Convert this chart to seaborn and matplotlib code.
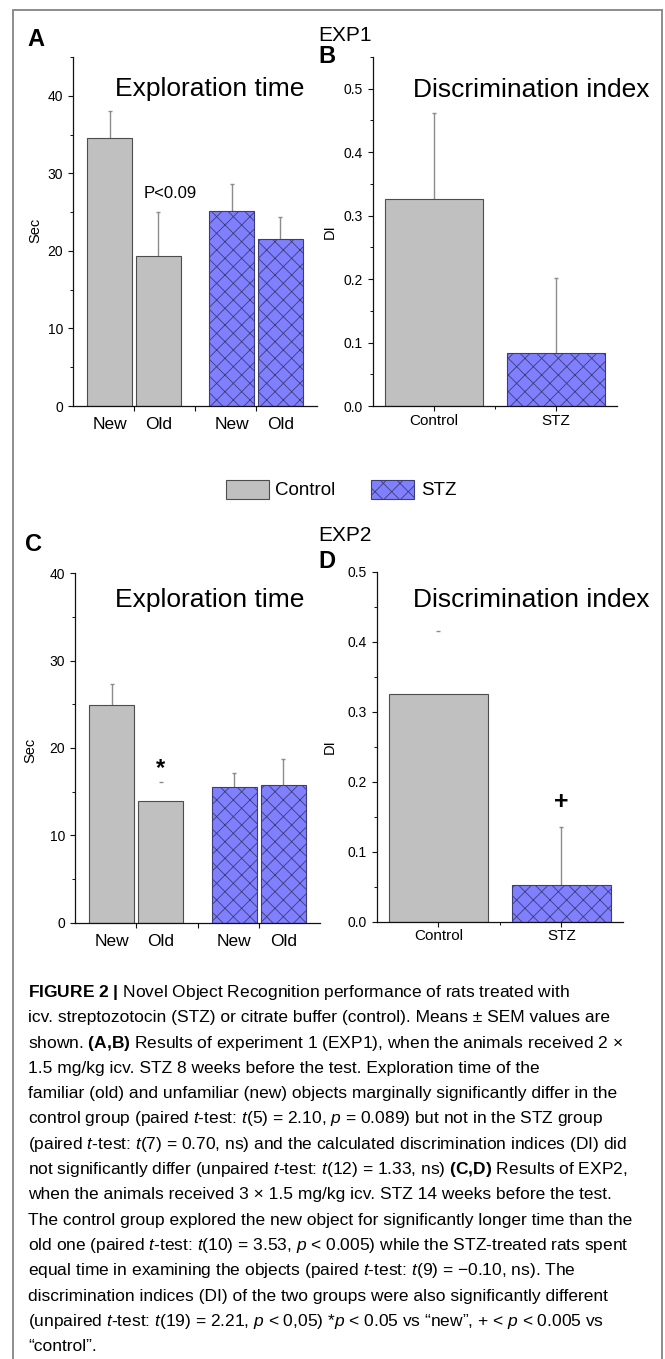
import matplotlib
matplotlib.use("Agg")
import numpy as np
import pandas as pd
import matplotlib.pyplot as plt
import seaborn as sns
from matplotlib import font_manager
from matplotlib.lines import Line2D
from matplotlib.patches import Patch
from matplotlib.ticker import MultipleLocator, FormatStrFormatter

# Values
groups = ["Control", "STZ"]
objects = ["New", "Old"]

# Exploration time (sec), order: Control New, Control Old, STZ New, STZ Old
exp1_time = [34.5, 19.3, 25.2, 21.5]
exp1_time_sem = [3.6, 5.7, 3.4, 2.9]
exp2_time = [24.9, 13.9, 15.55, 15.8]
exp2_time_sem = [2.4, 2.2, 1.6, 2.9]

# Discrimination index, order: Control, STZ
exp1_di = [0.326, 0.083]
exp1_di_sem = [0.136, 0.119]
exp2_di = [0.325, 0.052]
exp2_di_sem = [0.090, 0.083]

caption_lines = [
    r"$\mathbf{FIGURE\ 2\ |}$ Novel Object Recognition performance of rats treated with",
    "icv. streptozotocin (STZ) or citrate buffer (control). Means ± SEM values are",
    r"shown. $\mathbf{(A{,}B)}$ Results of experiment 1 (EXP1), when the animals received 2 ×",
    "1.5 mg/kg icv. STZ 8 weeks before the test. Exploration time of the",
    "familiar (old) and unfamiliar (new) objects marginally significantly differ in the",
    r"control group (paired $t$-test: $t$(5) = 2.10, $p$ = 0.089) but not in the STZ group",
    r"(paired $t$-test: $t$(7) = 0.70, ns) and the calculated discrimination indices (DI) did",
    r"not significantly differ (unpaired $t$-test: $t$(12) = 1.33, ns) $\mathbf{(C{,}D)}$ Results of EXP2,",
    "when the animals received 3 × 1.5 mg/kg icv. STZ 14 weeks before the test.",
    "The control group explored the new object for significantly longer time than the",
    r"old one (paired $t$-test: $t$(10) = 3.53, $p$ < 0.005) while the STZ-treated rats spent",
    r"equal time in examining the objects (paired $t$-test: $t$(9) = −0.10, ns). The",
    "discrimination indices (DI) of the two groups were also significantly different",
    r"(unpaired $t$-test: $t$(19) = 2.21, $p$ < 0,05) *$p$ < 0.05 vs “new”, + < $p$ < 0.005 vs",
    "“control”.",
]

# colours
ctrl_color = "#c0c0c0"
stz_color = "#8080ff"
ctrl_edge = "#4d4d4d"
stz_edge = "#3c3c78"
err_color = "#8c8c8c"
ink = "#111111"

sns.set_style("ticks")
plt.rcParams["font.family"] = ["Liberation Sans", "DejaVu Sans"]
plt.rcParams["hatch.linewidth"] = 0.6
plt.rcParams["axes.edgecolor"] = ink
plt.rcParams["axes.linewidth"] = 0.9
plt.rcParams["text.color"] = "black"
plt.rcParams["axes.labelcolor"] = "black"
plt.rcParams["xtick.color"] = ink
plt.rcParams["ytick.color"] = ink
plt.rcParams["xtick.labelcolor"] = "black"
plt.rcParams["ytick.labelcolor"] = "black"

names = {f.name for f in font_manager.fontManager.ttflist}
cap_font = "Liberation Sans Narrow" if "Liberation Sans Narrow" in names else "Liberation Sans"
plt.rcParams["mathtext.fontset"] = "custom"
plt.rcParams["mathtext.rm"] = cap_font
plt.rcParams["mathtext.it"] = cap_font + ":italic"
plt.rcParams["mathtext.bf"] = cap_font + ":bold"

W, H = 665, 1359
fig = plt.figure(figsize=(W / 100, H / 100), dpi=100)


def add_axes(left, top, right, bottom):
    return fig.add_axes([left / W, 1 - bottom / H, (right - left) / W, (bottom - top) / H])


def paint(patch, g):
    if g == 0:
        patch.set_facecolor(ctrl_color)
        patch.set_edgecolor(ctrl_edge)
    else:
        patch.set_facecolor(stz_color)
        patch.set_edgecolor(stz_edge)
        patch.set_hatch("xx")
    patch.set_linewidth(0.8)


def draw_err(ax, x, y, e, show_line=True):
    if show_line:
        ax.errorbar([x], [y], yerr=[[0], [e]], fmt="none", ecolor=err_color,
                    elinewidth=1.0, capsize=0, zorder=0.5)
    ax.plot([x], [y + e], marker="_", ms=3.5, mew=1.0, color=err_color, zorder=0.5)


def style_axis(ax, ymax, major, minor, fmt):
    sns.despine(ax=ax)
    ax.set_xlim(-0.5, 1.5)
    ax.set_ylim(0, ymax)
    ax.yaxis.set_major_locator(MultipleLocator(major))
    ax.yaxis.set_minor_locator(MultipleLocator(minor))
    ax.yaxis.set_major_formatter(FormatStrFormatter(fmt))
    ax.tick_params(axis="y", which="major", direction="out", length=3.6, width=0.8,
                   pad=3.4, labelsize=10)
    ax.tick_params(axis="y", which="minor", direction="out", length=2.2, width=0.7)
    ax.set_xlabel("")


def time_panel(ax, means, sems, ymax, hide=None):
    df = pd.DataFrame({"group": np.repeat(groups, 2), "object": objects * 2,
                       "sec": means, "err": sems})
    sns.barplot(data=df, x="group", y="sec", hue="object", order=groups,
                hue_order=objects, width=0.8, gap=0.08, errorbar=None,
                legend=False, ax=ax)
    centers = []
    for p in ax.patches:
        xc = p.get_x() + p.get_width() / 2
        g = int(round(xc))
        o = 0 if xc < g else 1
        row = df[(df["group"] == groups[g]) & (df["object"] == objects[o])].iloc[0]
        paint(p, g)
        draw_err(ax, xc, p.get_height(), row["err"], hide != (groups[g], objects[o]))
        centers.append((xc, objects[o]))
    centers.sort()
    style_axis(ax, ymax, 10, 5, "%d")
    ax.set_xticks([c[0] for c in centers], [c[1] for c in centers])
    ax.set_xticks([0, 0.5, 1], minor=True)
    ax.tick_params(axis="x", which="major", length=0, pad=8.0, labelsize=12.5)
    ax.tick_params(axis="x", which="minor", direction="out", length=3.6, width=0.8)
    ax.set_ylabel("Sec", fontsize=10.5)


def di_panel(ax, means, sems, ymax, hide=None):
    df = pd.DataFrame({"group": groups, "di": means, "err": sems})
    sns.barplot(data=df, x="group", y="di", order=groups, width=0.8,
                errorbar=None, ax=ax)
    for p in ax.patches:
        xc = p.get_x() + p.get_width() / 2
        g = int(round(xc))
        paint(p, g)
        draw_err(ax, xc, p.get_height(), df["err"][g], hide != groups[g])
    style_axis(ax, ymax, 0.1, 0.05, "%.1f")
    ax.set_xticks([0, 1], groups)
    ax.set_xticks([0.5], minor=True)
    ax.tick_params(axis="x", which="major", direction="out", length=3.6, width=0.8,
                   pad=2.0, labelsize=11)
    ax.tick_params(axis="x", which="minor", direction="out", length=2.2, width=0.7)
    ax.set_ylabel("DI", fontsize=10.5)


axA = add_axes(73, 57, 317, 406)
axB = add_axes(372.7, 57, 616.7, 406)
axC = add_axes(75, 573.3, 320, 922.5)
axD = add_axes(376.7, 571.7, 623, 921.7)

time_panel(axA, exp1_time, exp1_time_sem, 45)
di_panel(axB, exp1_di, exp1_di_sem, 0.55)
time_panel(axC, exp2_time, exp2_time_sem, 40, hide=("Control", "Old"))
di_panel(axD, exp2_di, exp2_di_sem, 0.5, hide="Control")

axA.yaxis.set_label_coords(-0.125, 0.504)
axC.yaxis.set_label_coords(-0.155, 0.494)
axB.yaxis.set_label_coords(-0.146, 0.5)
axD.yaxis.set_label_coords(-0.161, 0.5)

for ax, x, y in [(axA, 0.561, 0.888), (axC, 0.551, 0.904)]:
    ax.text(x, y, "Exploration time", transform=ax.transAxes, ha="center",
            va="baseline", fontsize=19)
for ax, x, y in [(axB, 0.649, 0.885), (axD, 0.626, 0.9)]:
    ax.text(x, y, "Discrimination index", transform=ax.transAxes, ha="center",
            va="baseline", fontsize=19)

axA.text(0.3, 26.8, "P<0.09", ha="center", va="baseline", fontsize=12)
axC.text(0.2, 17.6, "*", ha="center", va="center", fontsize=17, fontweight="bold")
axD.text(1.0, 0.171, "+", ha="center", va="center", fontsize=18, fontweight="bold")

# panel letters and experiment names
for x, y, s, bold, size in [(27, 46, "A", True, 17), (318, 41, "EXP1", False, 15),
                            (318, 63, "B", True, 17), (25, 551, "C", True, 17),
                            (318, 541.5, "EXP2", False, 15), (318, 568, "D", True, 17)]:
    fig.text(x / W, 1 - y / H, s, fontsize=size, va="baseline",
             fontweight="bold" if bold else "normal")

# legend shared by all panels
handles = [Patch(facecolor=ctrl_color, edgecolor=ctrl_edge, linewidth=0.8),
           Patch(facecolor=stz_color, edgecolor=stz_edge, hatch="xx", linewidth=0.8)]
fig.legend(handles, groups, loc="center", bbox_to_anchor=(341 / W, 1 - 489.5 / H),
           ncol=2, frameon=False, fontsize=13.5, handlelength=2.3, handleheight=1.2,
           handletextpad=0.35, columnspacing=1.9)

# frame around the figure
for xs, ys in [([12.5, 12.5], [H, 10]), ([12.5, 661.5], [10, 10]), ([661.5, 661.5], [10, H])]:
    fig.add_artist(Line2D([x / W for x in xs], [1 - y / H for y in ys], color="#8c8c8c",
                          lw=1.4, transform=fig.transFigure))

# caption
cap_size = 12.7
texts = []
for i, line in enumerate(caption_lines):
    texts.append(fig.text(28.5 / W, 1 - (997 + 25.3 * i) / H, line, fontsize=cap_size,
                          family=[cap_font, "DejaVu Sans"], va="baseline"))
fig.canvas.draw()
renderer = fig.canvas.get_renderer()
widest = max(t.get_window_extent(renderer).width for t in texts)
if widest > 604:
    for t in texts:
        t.set_fontsize(cap_size * 604 / widest)

fig.savefig("out.png", dpi=100)
